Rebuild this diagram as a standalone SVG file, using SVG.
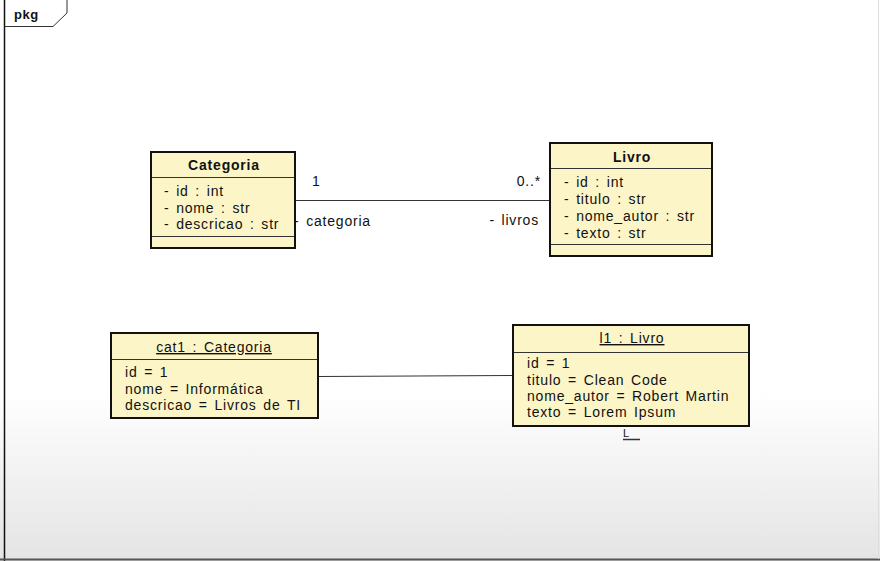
<svg xmlns="http://www.w3.org/2000/svg" width="880" height="561" viewBox="0 0 880 561">
<defs>
<linearGradient id="bg" x1="0" y1="0" x2="0" y2="1">
<stop offset="0" stop-color="#ffffff"/>
<stop offset="0.7" stop-color="#ffffff"/>
<stop offset="1" stop-color="#e4e4e4"/>
</linearGradient>
</defs>
<style>
text{font-family:"Liberation Sans",Arial,sans-serif;font-size:14px;letter-spacing:0.8px;word-spacing:2px;fill:#111}
.t{font-weight:bold;text-anchor:middle}
.u{text-decoration:underline;text-anchor:middle}
.box{fill:#fcf5c8;stroke:#111;stroke-width:2}
.sep{stroke:#333;stroke-width:1}
.ln{stroke:#333;stroke-width:1;fill:none}
</style>
<rect x="0" y="0" width="880" height="561" fill="url(#bg)"/>
<g id="frame">
<line x1="4.5" y1="0" x2="4.5" y2="561" stroke="#111" stroke-width="1.5"/>
<line x1="0" y1="559.5" x2="880" y2="559.5" stroke="#555" stroke-width="2"/>
<line x1="878.5" y1="0" x2="878.5" y2="559" stroke="#ddd" stroke-width="1"/>
<path d="M4.5 26.5 H53 L67 13 V0" class="ln" stroke="#222"/>
<text x="14" y="19" style="font-weight:bold;font-size:13px;letter-spacing:0.5px">pkg</text>
</g>
<g id="Categoria">
<rect x="151" y="152" width="144" height="96" class="box"/>
<line x1="152" y1="177.5" x2="294" y2="177.5" class="sep"/>
<line x1="152" y1="236.5" x2="294" y2="236.5" class="sep"/>
<text x="224" y="170" class="t">Categoria</text>
<text x="164" y="196">- id : int</text>
<text x="164" y="213">- nome : str</text>
<text x="164" y="229">- descricao : str</text>
</g>
<g id="Livro">
<rect x="550" y="143" width="162" height="113" class="box"/>
<line x1="551" y1="168.5" x2="711" y2="168.5" class="sep"/>
<line x1="551" y1="244.5" x2="711" y2="244.5" class="sep"/>
<text x="632" y="162" class="t">Livro</text>
<text x="564" y="187">- id : int</text>
<text x="564" y="204">- titulo : str</text>
<text x="564" y="221">- nome_autor : str</text>
<text x="564" y="238">- texto : str</text>
</g>
<g id="cat1">
<rect x="111" y="333" width="207" height="85" class="box"/>
<line x1="112" y1="359.5" x2="317" y2="359.5" class="sep"/>
<text x="214" y="352" class="u">cat1 : Categoria</text>
<text x="125" y="377">id = 1</text>
<text x="125" y="394">nome = Informática</text>
<text x="125" y="410">descricao = Livros de TI</text>
</g>
<g id="l1">
<rect x="513" y="325" width="236" height="101" class="box"/>
<line x1="514" y1="352.5" x2="748" y2="352.5" class="sep"/>
<text x="632" y="343" class="u">l1 : Livro</text>
<text x="527" y="368">id = 1</text>
<text x="527" y="385">titulo = Clean Code</text>
<text x="527" y="401">nome_autor = Robert Martin</text>
<text x="527" y="417">texto = Lorem Ipsum</text>
<text x="623" y="437" style="font-size:11px;letter-spacing:0">L</text>
<line x1="623" y1="439.5" x2="640" y2="439.5" stroke="#333" stroke-width="1.5"/>
</g>
<g id="connectors">
<line x1="296" y1="200.5" x2="549" y2="200.5" class="ln"/>
<text x="312" y="186">1</text>
<text x="541" y="186" text-anchor="end">0..*</text>
<text x="294" y="226">- categoria</text>
<text x="539" y="225" text-anchor="end">- livros</text>
<line x1="319" y1="376.5" x2="512" y2="375.5" class="ln"/>
</g>
</svg>
